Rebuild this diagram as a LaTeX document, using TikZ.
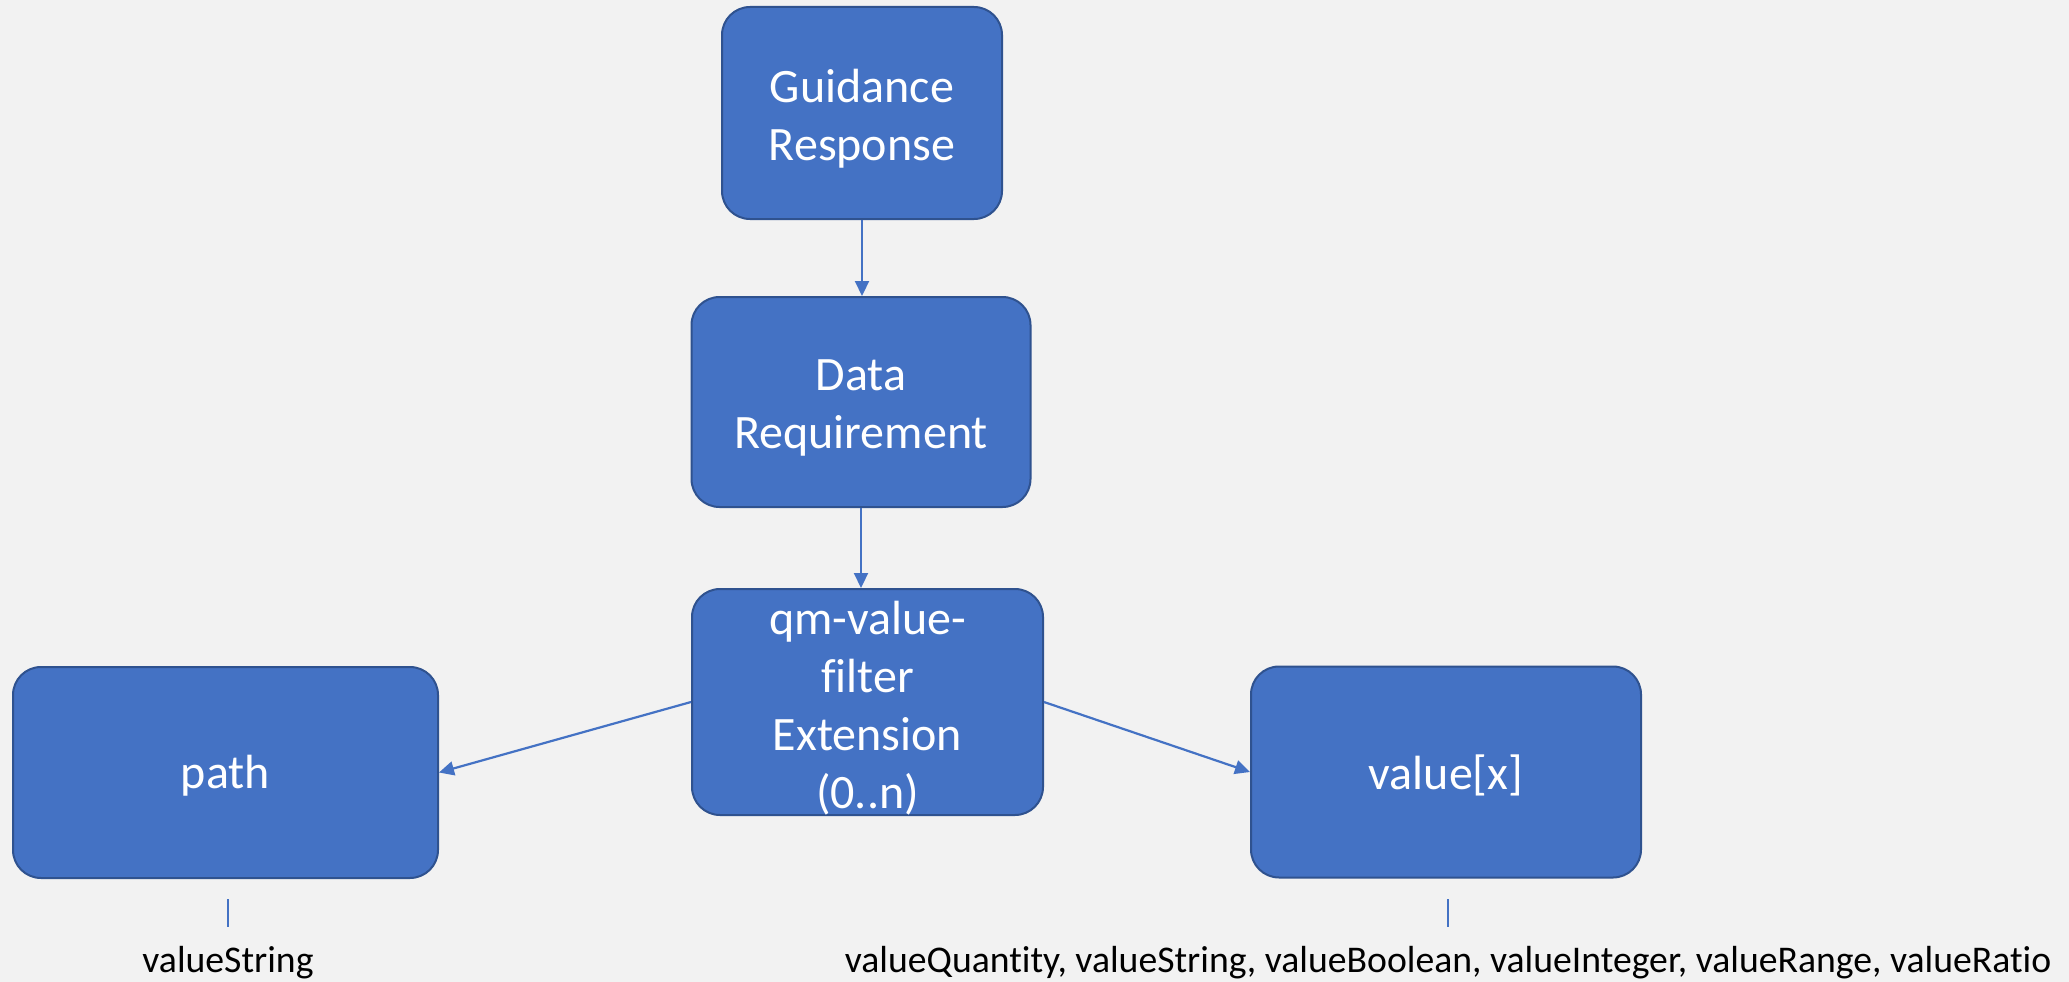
\documentclass[tikz,border=0pt]{standalone}
\usepackage{fontspec}
\setmainfont{Carlito}[Ligatures=NoCommon]
\usetikzlibrary{arrows.meta}
\definecolor{bg}{HTML}{F2F2F2}
\definecolor{boxfill}{HTML}{4472C4}
\definecolor{boxline}{HTML}{2F528F}
\definecolor{conn}{HTML}{4472C4}
\tikzset{
  box/.style={draw=boxline, fill=boxfill, line width=2pt, rounded corners=28pt, inner sep=0pt},
  boxtxt/.style={text=white, align=center, inner sep=0pt,
    font=\fontsize{48pt}{58pt}\selectfont},
  conn/.style={draw=conn, line width=2.2pt, -{Triangle[length=15pt,width=14pt]}},
  tick/.style={draw=conn, line width=1.2pt},
  lbl/.style={text=black, inner sep=0pt, anchor=base, font=\fontsize{37.7pt}{44pt}\selectfont}
}
\begin{document}
\begin{tikzpicture}[x=1pt,y=-1pt]
\fill[bg] (0,0) rectangle (2069,982);
\useasboundingbox (0,0) rectangle (2069,982);
\node[box, minimum width=280pt, minimum height=212pt] (gr) at (862,113) {};
\node[box, minimum width=339pt, minimum height=210pt] (dr) at (861,402) {};
\node[box, minimum width=351pt, minimum height=226pt] (qm) at (867.5,702) {};
\node[box, minimum width=425pt, minimum height=211pt] (path) at (225.5,772.5) {};
\node[box, minimum width=390pt, minimum height=211pt] (vx) at (1446,772) {};
\node[boxtxt] (grt) at ([yshift=-6pt]gr.center) {Guidance\\Response};
\node[boxtxt] (drt) at ([yshift=-6pt]dr.center) {Data\\Requirement};
\node[boxtxt] (qmt) at ([yshift=-6pt]qm.center) {qm-value-\\filter\\Extension\\(0..n)};
\node[boxtxt] (patht) at ([yshift=-3pt]path.center) {path};
\node[boxtxt] (vxt) at ([yshift=-3pt]vx.center) {value[x]};
\draw[conn] (gr.south) -- (gr.south |- dr.north);
\draw[conn] (dr.south) -- (dr.south |- qm.north);
\draw[conn] (qm.west) -- (path.east);
\draw[conn] (qm.east) -- (vx.west);
\node[lbl] (l1) at (228,972) {valueString};
\node[lbl] (l2) at (1448,972) {valueQuantity, valueString, valueBoolean, valueInteger, valueRange, valueRatio};
\coordinate (t1a) at (228,899);
\coordinate (t1b) at (228,927);
\coordinate (t2a) at (1448,899);
\coordinate (t2b) at (1448,927);
\draw[tick] (t1a) -- (t1b);
\draw[tick] (t2a) -- (t2b);
\end{tikzpicture}
\end{document}
